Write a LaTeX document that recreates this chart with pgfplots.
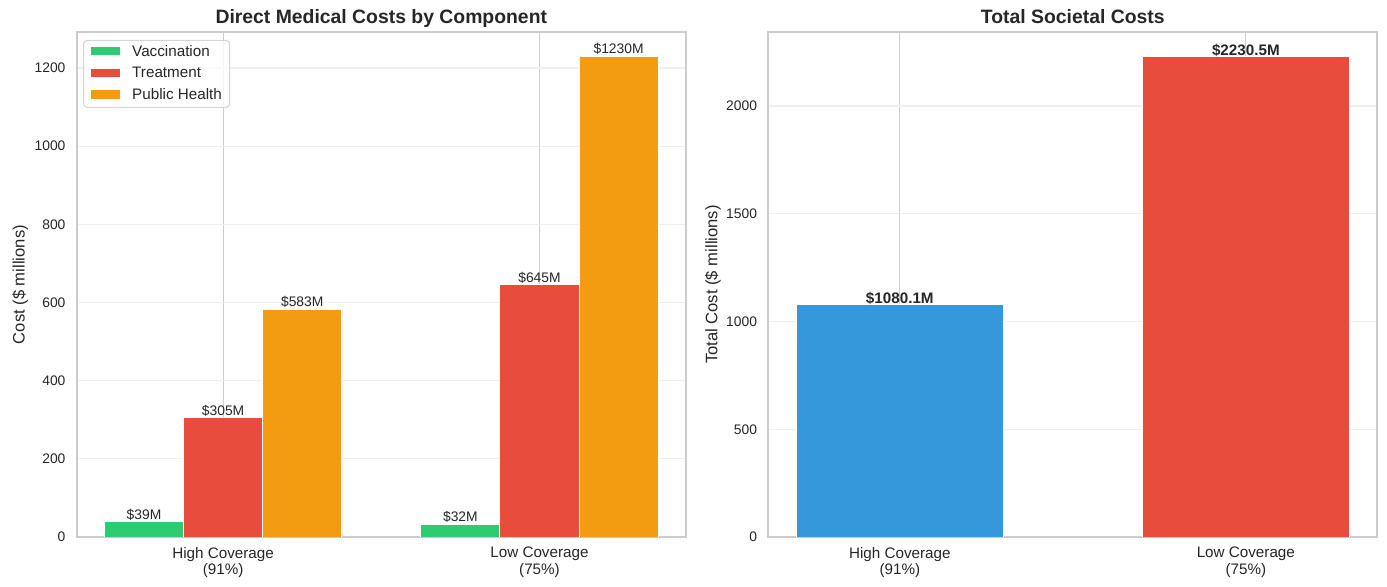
\documentclass[border=0pt]{standalone}
\usepackage{pgfplots}
\pgfplotsset{compat=1.18}
\usepackage{fontspec}
\setmainfont{Liberation Sans}
\definecolor{cgreen}{HTML}{2ECC71}
\definecolor{cred}{HTML}{E74C3C}
\definecolor{corange}{HTML}{F39C12}
\definecolor{cblue}{HTML}{3498DB}
\definecolor{txt}{HTML}{262626}
\definecolor{spine}{HTML}{CCCCCC}
\definecolor{ygrid}{HTML}{EFEFEF}
\pgfplotsset{
  mystyle/.style={
    scale only axis, width=438.48bp, height=363.4bp,
    axis line style={draw=spine, line width=1.25bp},
    major tick length=0pt,
    xmajorgrids, ymajorgrids,
    x grid style={spine, line width=0.8bp},
    y grid style={ygrid, line width=0.8bp},
    tick label style={color=txt},
    yticklabel style={font=\fontsize{10}{12}\selectfont, anchor=east, inner sep=0pt, xshift=-8bp},
    xticklabel style={font=\fontsize{11}{12.2}\selectfont, anchor=north, inner sep=0pt, yshift=-7bp, align=center},
    /pgf/number format/assume math mode=true,
    /pgf/number format/1000 sep={},
    every axis title shift=0pt,
    title style={font=\fontsize{14}{16}\selectfont\bfseries, color=txt, at={(axis description cs:0.5,1)}, anchor=base, inner sep=0pt, yshift=6.2bp},
    xtick={0,1},
    xticklabels={High Coverage\\(91\%),Low Coverage\\(75\%)},
    ymin=0,
  },
  bars/.style={ybar, draw=white, line width=0.72bp, bar shift=0},
  lblA/.style={nodes near coords, point meta=explicit symbolic,
    every node near coord/.append style={font=\fontsize{10}{12}\selectfont, color=txt, anchor=base, inner sep=0pt, yshift=1.9bp}},
  lblB/.style={nodes near coords, point meta=explicit symbolic,
    every node near coord/.append style={font=\fontsize{11}{13}\selectfont\bfseries, color=txt, anchor=base, inner sep=0pt, yshift=0.8bp}},
}
\begin{document}
\begin{tikzpicture}
\useasboundingbox (0,0) rectangle (998.64bp,422.64bp);
% Left panel
\begin{axis}[mystyle,
  at={(55.3bp,36bp)}, anchor=south west,
  xmin=-0.4625, xmax=1.4625, ymax=1291.5,
  ytick={0,200,400,600,800,1000,1200},
  title={Direct Medical Costs by Component},
  ylabel={Cost (\$ millions)},
  ylabel style={font=\fontsize{12}{14}\selectfont, color=txt, at={(axis description cs:-0.0794,0.5)}, anchor=south, inner sep=0pt},
  legend style={at={(0.0103,0.985)}, anchor=north west, draw=spine, line width=0.8bp, rounded corners=2.5bp,
    fill=white, fill opacity=0.8, draw opacity=0.8, text opacity=1,
    font=\fontsize{11}{13}\selectfont, text=txt,
    inner xsep=5.5bp, inner ysep=3.2bp, row sep=5bp,
    nodes={inner sep=0pt, text height=8.2bp, text depth=2.4bp},
    /tikz/every odd column/.append style={column sep=8.6bp}},
  legend cell align=left,
  legend image code/.code={\fill[#1, draw=none, fill opacity=1, sharp corners] (0bp,-2.2bp) rectangle (20.9bp,3.8bp);},
]
\addplot[bars, fill=cgreen, bar width=0.25, lblA] coordinates {(-0.25,39) [\$39M] (0.75,32) [\$32M]};
\addlegendentry{Vaccination}
\addplot[bars, fill=cred, bar width=0.25, lblA] coordinates {(0,305) [\$305M] (1,645) [\$645M]};
\addlegendentry{Treatment}
\addplot[bars, fill=corange, bar width=0.25, lblA] coordinates {(0.25,583) [\$583M] (1.25,1230) [\$1230M]};
\addlegendentry{Public Health}
\end{axis}
% Right panel
\begin{axis}[mystyle,
  at={(553.2bp,36bp)}, anchor=south west,
  xmin=-0.38, xmax=1.38, ymax=2342,
  ytick={0,500,1000,1500,2000},
  title={Total Societal Costs},
  ylabel={Total Cost (\$ millions)},
  ylabel style={font=\fontsize{12}{14}\selectfont, color=txt, at={(axis description cs:-0.0775,0.5)}, anchor=south, inner sep=0pt},
]
\addplot[bars, fill=cblue, bar width=0.6, lblB] coordinates {(0,1080.1) [\$1080.1M]};
\addplot[bars, fill=cred, bar width=0.6, lblB] coordinates {(1,2230.5) [\$2230.5M]};
\end{axis}
\end{tikzpicture}
\end{document}
